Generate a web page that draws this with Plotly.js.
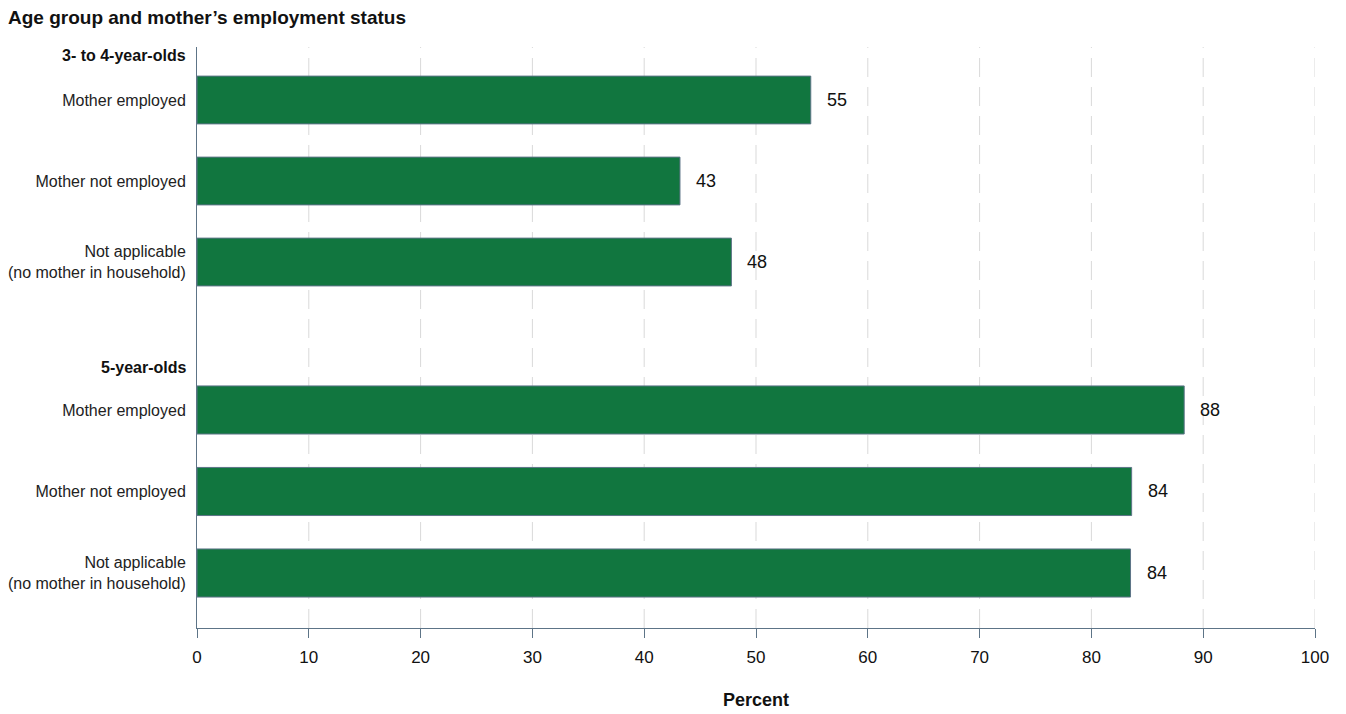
<!DOCTYPE html>
<html>
<head>
<meta charset="utf-8">
<script src="https://cdn.plot.ly/plotly-3.0.1.min.js"></script>
<style>html,body{margin:0;padding:0;background:#fff}#chart{width:1346px;height:714px}</style>
</head>
<body>
<div id="chart"></div>
<script>
// ---- Data ----
const groupLabels = ["3- to 4-year-olds", "5-year-olds"];
const categories = ["Mother employed", "Mother not employed", "Not applicable<br>(no mother in household)"];
const values34 = [54.9, 43.2, 47.8];
const values5 = [88.3, 83.6, 83.5];
const xTicks = [0, 10, 20, 30, 40, 50, 60, 70, 80, 90, 100];

// ---- Style ----
const FONT = "Liberation Sans, Arial, Helvetica, sans-serif";
const GREEN = "#11763f";
const SLATE = "#5d7487";
const GRID = "#d9d9d9";

function barTrace(vals, yaxis) {
  return {
    type: "bar", orientation: "h",
    x: vals, y: categories, yaxis: yaxis, xaxis: "x",
    marker: {color: GREEN, line: {color: SLATE, width: 1}},
    hoverinfo: "x+y", showlegend: false
  };
}

function valueAnnotations(vals, yref) {
  return vals.map((v, i) => ({
    x: v, y: categories[i], xref: "x", yref: yref,
    text: Math.round(v).toString(), showarrow: false,
    xanchor: "left", yanchor: "middle", xshift: 14,
    font: {family: FONT, size: 18, color: "#111"}
  }));
}

const data = [
  // full-height helper subplot (drawn first) for the continuous y axis line
  {type: "scatter", x: [null], y: [null], xaxis: "x", yaxis: "y", hoverinfo: "skip", showlegend: false},
  barTrace(values34, "y2"),
  barTrace(values5, "y3")
];

const yCommon = {
  type: "category", autorange: "reversed", showgrid: false, zeroline: false,
  showline: false, ticks: "outside", ticklen: 7, tickcolor: "rgba(0,0,0,0)",
  tickfont: {family: FONT, size: 16, color: "#222"}, fixedrange: true
};

// dashed vertical gridlines spanning the whole plot height
const gridShapes = xTicks.filter(t => t > 0).map(t => ({
  type: "line", xref: "x", yref: "paper", x0: t, x1: t, y0: 0, y1: 1,
  layer: "below", line: {color: GRID, width: 1, dash: "19px,10px"}
}));

const layout = {
  width: 1346, height: 714,
  margin: {l: 197, r: 31, t: 47, b: 86, pad: 0},
  paper_bgcolor: "#fff", plot_bgcolor: "rgba(0,0,0,0)",
  font: {family: FONT, color: "#222"},
  bargap: 0.41,
  title: {
    text: "<b>Age group and mother’s employment status</b>",
    font: {family: FONT, size: 19, color: "#111"},
    xref: "container", yref: "container", x: 8 / 1346, xanchor: "left",
    y: 1 - 17 / 714, yanchor: "middle"
  },
  xaxis: {
    anchor: "y", range: [0, 100], tickvals: xTicks, ticktext: xTicks.map(String),
    showgrid: false, zeroline: false, showline: true, linecolor: SLATE, linewidth: 1,
    ticks: "outside", ticklen: 9, tickcolor: SLATE, tickwidth: 1, ticklabelstandoff: 5,
    tickfont: {family: FONT, size: 17, color: "#111"},
    title: {text: "<b>Percent</b>", font: {family: FONT, size: 18, color: "#111"}, standoff: 26},
    fixedrange: true
  },
  yaxis: {
    domain: [0, 1], anchor: "x", range: [0, 1], showgrid: false, zeroline: false,
    showline: true, linecolor: SLATE, linewidth: 1, showticklabels: false, ticks: "",
    fixedrange: true
  },
  yaxis2: Object.assign({}, yCommon, {domain: [0.5602, 0.9785], anchor: "x"}),
  yaxis3: Object.assign({}, yCommon, {domain: [0.0245, 0.4454], anchor: "x"}),
  shapes: gridShapes,
  annotations: [
    {text: "<b>" + groupLabels[0] + "</b>", xref: "paper", yref: "paper", x: 0, y: (628 - 55) / 581,
     xanchor: "right", yanchor: "middle", xshift: -9, showarrow: false,
     font: {family: FONT, size: 16, color: "#111"}},
    {text: "<b>" + groupLabels[1] + "</b>", xref: "paper", yref: "paper", x: 0, y: (628 - 368) / 581,
     xanchor: "right", yanchor: "middle", xshift: -9, showarrow: false,
     font: {family: FONT, size: 16, color: "#111"}}
  ].concat(valueAnnotations(values34, "y2"), valueAnnotations(values5, "y3"))
};

Plotly.newPlot("chart", data, layout, {displayModeBar: false, staticPlot: true});
</script>
</body>
</html>
